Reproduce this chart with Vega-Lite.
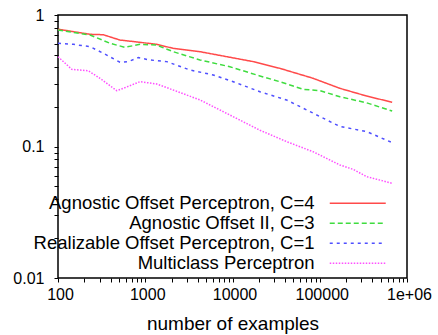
{
  "$schema": "https://vega.github.io/schema/vega-lite/v6.json",
  "width": 349,
  "height": 263,
  "autosize": {"type": "none"},
  "padding": {"left": 58, "top": 15, "right": 31, "bottom": 57},
  "background": "white",
  "config": {
    "view": {"stroke": "#000", "strokeWidth": 1.5},
    "font": "Liberation Sans",
    "axis": {"labelFont": "Liberation Sans", "titleFont": "Liberation Sans", "labelColor": "#000", "titleColor": "#000", "domain": false, "tickColor": "#000", "tickWidth": 1},
    "legend": {
      "orient": "none",
      "legendX": 262.5,
      "legendY": 179,
      "title": null,
      "symbolType": "M0,0H20",
      "symbolSize": 31.36,
      "symbolStrokeWidth": 1.5,
      "labelAlign": "right",
      "labelOffset": -24.5,
      "labelFont": "Liberation Sans",
      "labelFontSize": 18.5,
      "labelColor": "#000",
      "labelLimit": 500,
      "rowPadding": 1,
      "padding": 0
    }
  },
  "data": {
    "values": [
      {"s": "Agnostic Offset Perceptron, C=4", "n": 100, "err": 0.78},
      {"s": "Agnostic Offset Perceptron, C=4", "n": 233, "err": 0.713},
      {"s": "Agnostic Offset Perceptron, C=4", "n": 330, "err": 0.708},
      {"s": "Agnostic Offset Perceptron, C=4", "n": 513, "err": 0.645},
      {"s": "Agnostic Offset Perceptron, C=4", "n": 870, "err": 0.62},
      {"s": "Agnostic Offset Perceptron, C=4", "n": 1350, "err": 0.598},
      {"s": "Agnostic Offset Perceptron, C=4", "n": 2090, "err": 0.558},
      {"s": "Agnostic Offset Perceptron, C=4", "n": 4240, "err": 0.526},
      {"s": "Agnostic Offset Perceptron, C=4", "n": 9330, "err": 0.477},
      {"s": "Agnostic Offset Perceptron, C=4", "n": 17300, "err": 0.442},
      {"s": "Agnostic Offset Perceptron, C=4", "n": 34900, "err": 0.393},
      {"s": "Agnostic Offset Perceptron, C=4", "n": 84000, "err": 0.33},
      {"s": "Agnostic Offset Perceptron, C=4", "n": 170000, "err": 0.277},
      {"s": "Agnostic Offset Perceptron, C=4", "n": 344000, "err": 0.242},
      {"s": "Agnostic Offset Perceptron, C=4", "n": 676000, "err": 0.217},
      {"s": "Agnostic Offset II, C=3", "n": 100, "err": 0.769},
      {"s": "Agnostic Offset II, C=3", "n": 233, "err": 0.705},
      {"s": "Agnostic Offset II, C=3", "n": 395, "err": 0.609},
      {"s": "Agnostic Offset II, C=3", "n": 585, "err": 0.568},
      {"s": "Agnostic Offset II, C=3", "n": 870, "err": 0.598},
      {"s": "Agnostic Offset II, C=3", "n": 1350, "err": 0.591},
      {"s": "Agnostic Offset II, C=3", "n": 2090, "err": 0.526},
      {"s": "Agnostic Offset II, C=3", "n": 4240, "err": 0.455},
      {"s": "Agnostic Offset II, C=3", "n": 9330, "err": 0.404},
      {"s": "Agnostic Offset II, C=3", "n": 20600, "err": 0.344},
      {"s": "Agnostic Offset II, C=3", "n": 34900, "err": 0.311},
      {"s": "Agnostic Offset II, C=3", "n": 64600, "err": 0.272},
      {"s": "Agnostic Offset II, C=3", "n": 100000, "err": 0.266},
      {"s": "Agnostic Offset II, C=3", "n": 170000, "err": 0.239},
      {"s": "Agnostic Offset II, C=3", "n": 344000, "err": 0.215},
      {"s": "Agnostic Offset II, C=3", "n": 676000, "err": 0.186},
      {"s": "Realizable Offset Perceptron, C=1", "n": 100, "err": 0.609},
      {"s": "Realizable Offset Perceptron, C=1", "n": 150, "err": 0.598},
      {"s": "Realizable Offset Perceptron, C=1", "n": 233, "err": 0.574},
      {"s": "Realizable Offset Perceptron, C=1", "n": 330, "err": 0.512},
      {"s": "Realizable Offset Perceptron, C=1", "n": 513, "err": 0.437},
      {"s": "Realizable Offset Perceptron, C=1", "n": 638, "err": 0.442},
      {"s": "Realizable Offset Perceptron, C=1", "n": 832, "err": 0.474},
      {"s": "Realizable Offset Perceptron, C=1", "n": 1130, "err": 0.455},
      {"s": "Realizable Offset Perceptron, C=1", "n": 1760, "err": 0.442},
      {"s": "Realizable Offset Perceptron, C=1", "n": 3250, "err": 0.382},
      {"s": "Realizable Offset Perceptron, C=1", "n": 6010, "err": 0.35},
      {"s": "Realizable Offset Perceptron, C=1", "n": 10200, "err": 0.311},
      {"s": "Realizable Offset Perceptron, C=1", "n": 20600, "err": 0.261},
      {"s": "Realizable Offset Perceptron, C=1", "n": 41600, "err": 0.226},
      {"s": "Realizable Offset Perceptron, C=1", "n": 70500, "err": 0.19},
      {"s": "Realizable Offset Perceptron, C=1", "n": 170000, "err": 0.142},
      {"s": "Realizable Offset Perceptron, C=1", "n": 344000, "err": 0.13},
      {"s": "Realizable Offset Perceptron, C=1", "n": 676000, "err": 0.107},
      {"s": "Multiclass Perceptron", "n": 100, "err": 0.482},
      {"s": "Multiclass Perceptron", "n": 144, "err": 0.386},
      {"s": "Multiclass Perceptron", "n": 222, "err": 0.377},
      {"s": "Multiclass Perceptron", "n": 303, "err": 0.33},
      {"s": "Multiclass Perceptron", "n": 470, "err": 0.266},
      {"s": "Multiclass Perceptron", "n": 560, "err": 0.277},
      {"s": "Multiclass Perceptron", "n": 870, "err": 0.311},
      {"s": "Multiclass Perceptron", "n": 1350, "err": 0.299},
      {"s": "Multiclass Perceptron", "n": 2090, "err": 0.269},
      {"s": "Multiclass Perceptron", "n": 4240, "err": 0.226},
      {"s": "Multiclass Perceptron", "n": 8510, "err": 0.179},
      {"s": "Multiclass Perceptron", "n": 20600, "err": 0.133},
      {"s": "Multiclass Perceptron", "n": 41600, "err": 0.109},
      {"s": "Multiclass Perceptron", "n": 84000, "err": 0.0912},
      {"s": "Multiclass Perceptron", "n": 170000, "err": 0.0724},
      {"s": "Multiclass Perceptron", "n": 242000, "err": 0.067},
      {"s": "Multiclass Perceptron", "n": 344000, "err": 0.059},
      {"s": "Multiclass Perceptron", "n": 676000, "err": 0.0525}
    ]
  },
  "mark": {"type": "line", "strokeWidth": 1.5},
  "encoding": {
    "x": {
      "field": "n", "type": "quantitative",
      "scale": {"type": "log", "domain": [100, 1000000]},
      "axis": {
        "orient": "bottom",
        "title": "number of examples",
        "titleFontSize": 19,
        "titleFontWeight": "normal",
        "titlePadding": 12,
        "grid": false,
        "ticks": true,
        "tickSize": 4,
        "values": [100,200,300,400,500,600,700,800,900,1000,2000,3000,4000,5000,6000,7000,8000,9000,10000,20000,30000,40000,50000,60000,70000,80000,90000,100000,200000,300000,400000,500000,600000,700000,800000,900000,1000000],
        "labelExpr": "indexof([100,1000,10000,100000],datum.value) >= 0 ? format(datum.value,'d') : (datum.value == 1000000 ? '1e+06' : '')",
        "labelFontSize": 16,
        "labelPadding": 4,
        "labelOffset": 2,
        "labelFlush": false,
        "labelOverlap": false
      }
    },
    "y": {
      "field": "err", "type": "quantitative",
      "scale": {"type": "log", "domain": [0.01, 1]},
      "axis": {
        "orient": "left",
        "title": null,
        "grid": false,
        "ticks": true,
        "tickSize": 4,
        "values": [0.01,0.02,0.03,0.04,0.05,0.06,0.07,0.08,0.09,0.1,0.2,0.3,0.4,0.5,0.6,0.7,0.8,0.9,1],
        "labelExpr": "datum.value == 1 ? '1' : (datum.value == 0.1 ? '0.1' : (datum.value == 0.01 ? '0.01' : ''))",
        "labelFontSize": 16,
        "labelPadding": 10,
        "labelFlush": false,
        "labelOverlap": false
      }
    },
    "color": {
      "field": "s", "type": "nominal",
      "scale": {
        "domain": ["Agnostic Offset Perceptron, C=4", "Agnostic Offset II, C=3", "Realizable Offset Perceptron, C=1", "Multiclass Perceptron"],
        "range": ["#ff4a4a", "#3fdc3f", "#4f4fff", "#ff4fff"]
      }
    },
    "strokeDash": {
      "field": "s", "type": "nominal",
      "scale": {
        "domain": ["Agnostic Offset Perceptron, C=4", "Agnostic Offset II, C=3", "Realizable Offset Perceptron, C=1", "Multiclass Perceptron"],
        "range": [[1, 0], [5, 3], [3, 4], [1.5, 1.5]]
      }
    }
  }
}
